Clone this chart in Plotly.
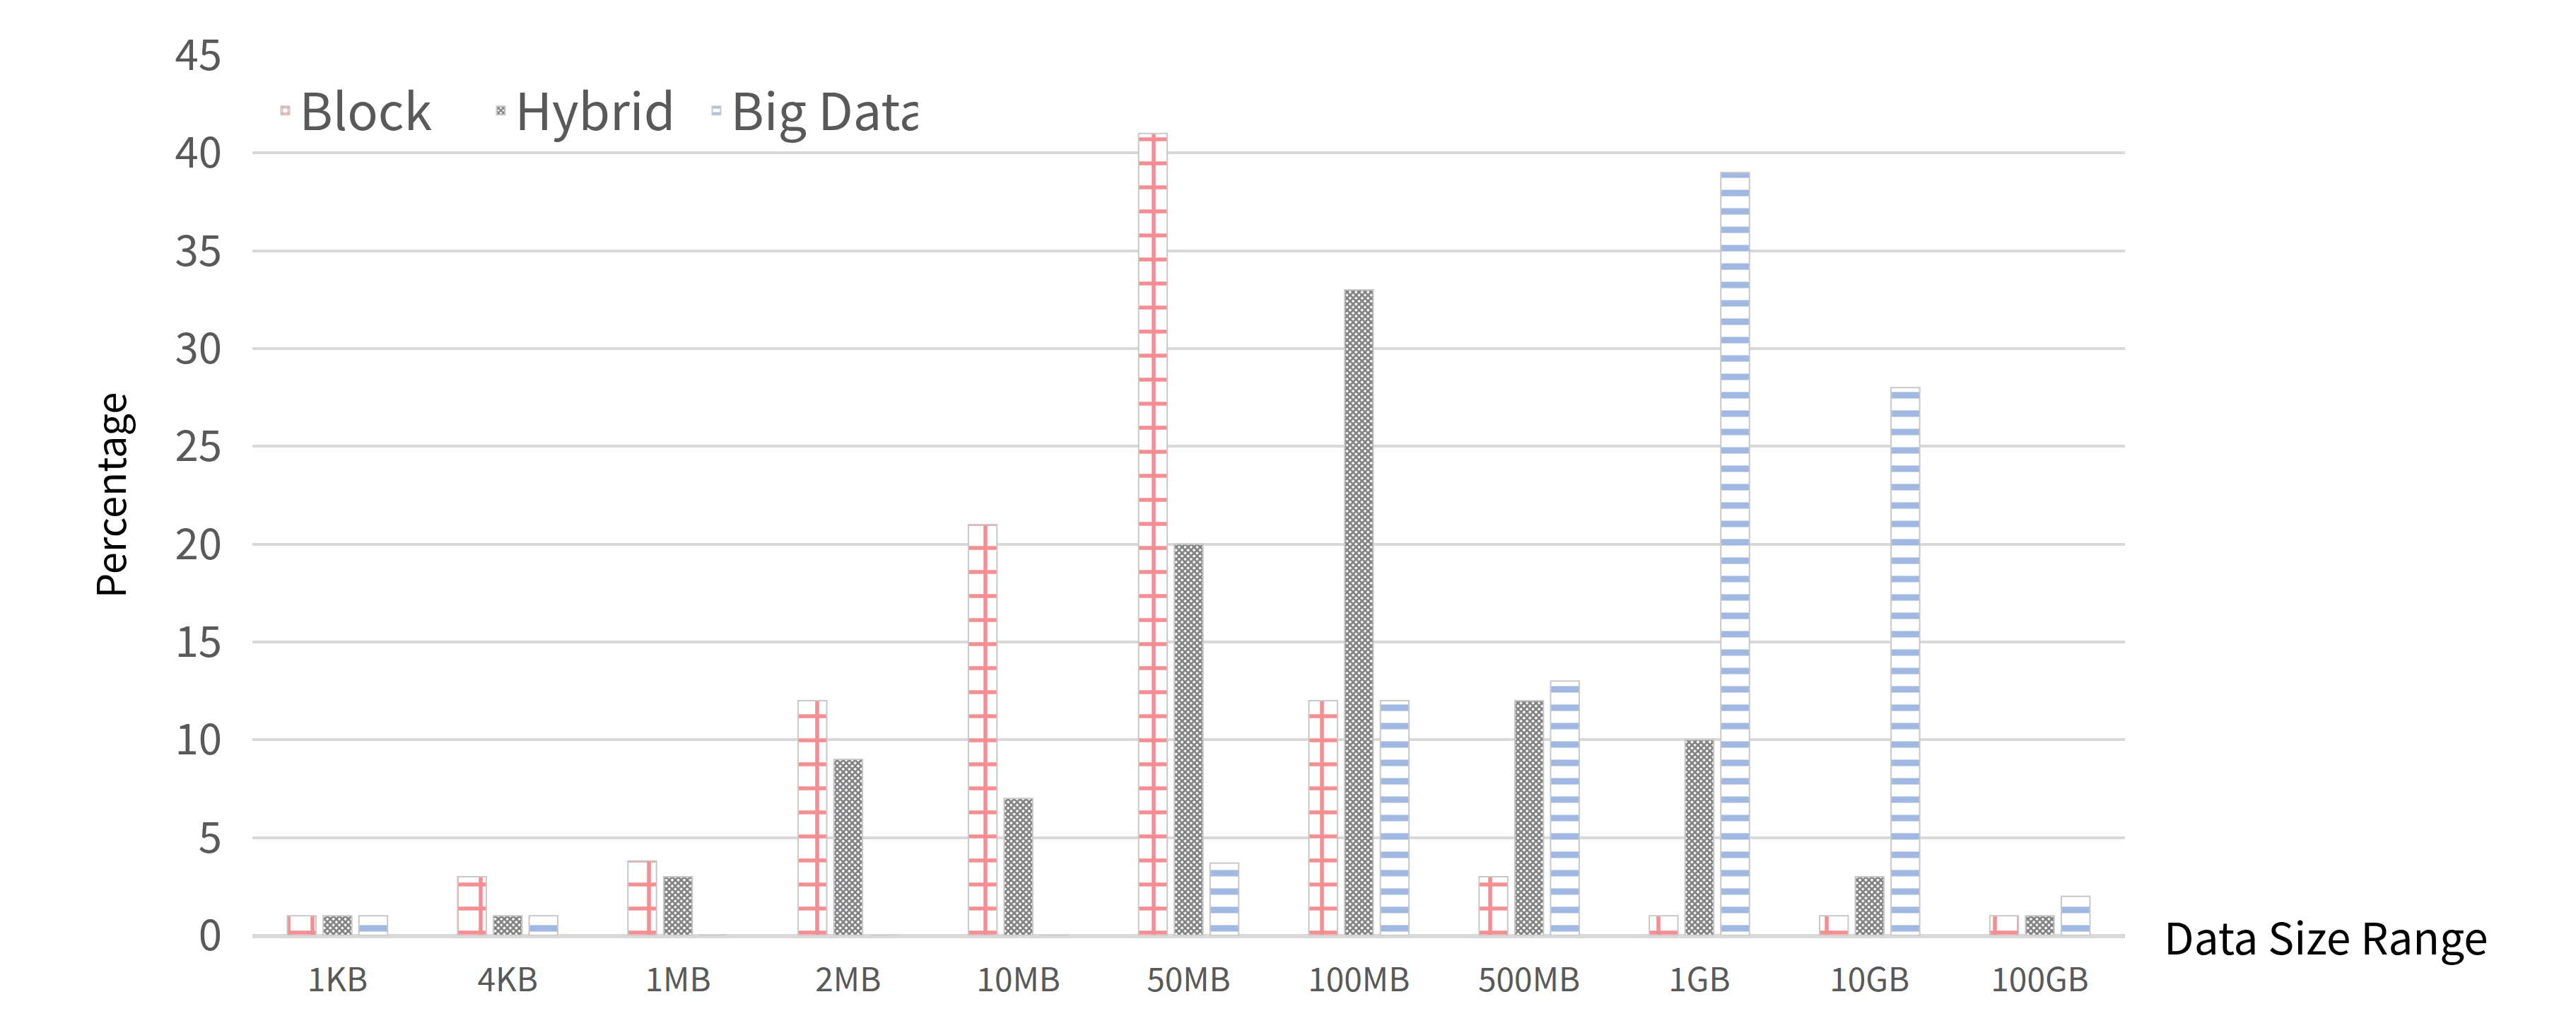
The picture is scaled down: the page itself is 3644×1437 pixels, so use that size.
import plotly.graph_objects as go

categories = ["1KB", "4KB", "1MB", "2MB", "10MB", "50MB", "100MB", "500MB", "1GB", "10GB", "100GB"]
block = [1, 3, 3.8, 12, 21, 41, 12, 3, 1, 1, 1]
hybrid = [1, 1, 3, 9, 7, 20, 33, 12, 10, 3, 1]
big_data = [1, 1, 0, 0, 0, 3.7, 12, 13, 39, 28, 2]

W, H = 3644, 1437
FONT = "Noto Sans CJK SC"

fig = go.Figure()
fig.add_trace(go.Bar(
    x=categories, y=block, name="Block",
    marker=dict(color="white", line=dict(color="#c8c8c8", width=2),
                pattern=dict(shape="+", fgcolor="#ee1c25", bgcolor="white", size=34, solidity=0.3)),
))
fig.add_trace(go.Bar(
    x=categories, y=hybrid, name="Hybrid",
    marker=dict(color="white", line=dict(color="#c8c8c8", width=2),
                pattern=dict(shape="x", fgcolor="black", bgcolor="white", size=6, solidity=0.7)),
))
fig.add_trace(go.Bar(
    x=categories, y=big_data, name="Big Data",
    marker=dict(color="white", line=dict(color="#c8c8c8", width=2),
                pattern=dict(shape="-", fgcolor="#4472c4", bgcolor="white", size=26, solidity=0.35)),
))

fig.update_layout(
    width=W, height=H,
    plot_bgcolor="white", paper_bgcolor="white",
    font=dict(family=FONT, color="#595959"),
    margin=dict(l=349, r=W - 2998, t=70, b=H - 1315),
    barmode="group", bargap=0.37, bargroupgap=0.2,
    legend=dict(orientation="h", x=0.01, y=0.98, xanchor="left", yanchor="top",
                font=dict(size=72, color="#595959", family=FONT),
                bgcolor="rgba(0,0,0,0)", itemwidth=30,
                entrywidth=260, entrywidthmode="pixels"),
)
fig.update_yaxes(
    range=[0, 45], dtick=5, gridcolor="#d9d9d9", gridwidth=4,
    tickfont=dict(size=60, color="#595959"), ticks="outside", ticklen=30, tickcolor="white",
    title=dict(text="Percentage", font=dict(size=56, color="black"), standoff=50),
    zeroline=True, zerolinecolor="#d9d9d9", zerolinewidth=4,
)
fig.update_xaxes(
    tickfont=dict(size=46, color="#595959"), ticks="outside", ticklen=20, tickcolor="white",
    showgrid=False, showline=True, linecolor="#d9d9d9", linewidth=4,
)
fig.add_annotation(
    text="Data Size Range", xref="paper", yref="paper", x=1.02, y=0,
    xanchor="left", yanchor="middle", showarrow=False,
    font=dict(size=62, color="black", family=FONT),
)

fig.write_html("out.html")
